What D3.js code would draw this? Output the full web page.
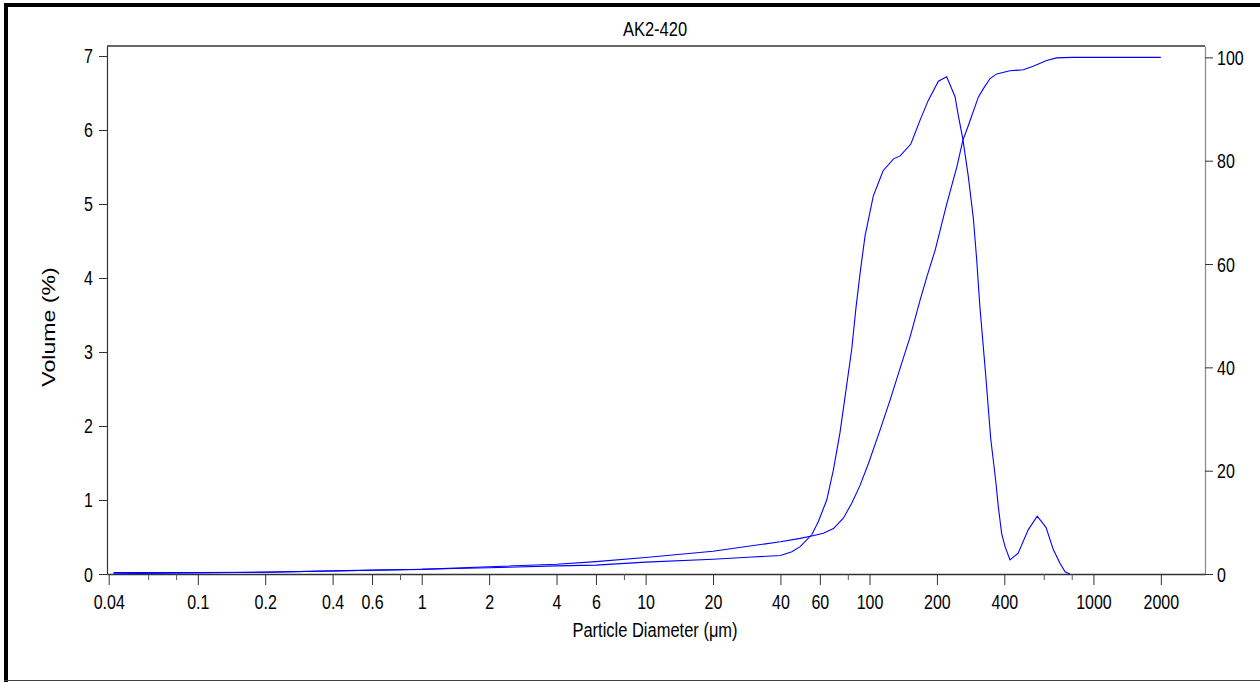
<!DOCTYPE html>
<html><head><meta charset="utf-8">
<script src="https://cdn.jsdelivr.net/npm/d3@7"></script>
<style>html,body{margin:0;padding:0;background:#fff;} svg{display:block;}</style>
</head><body>
<svg id="chart" width="1260" height="682"></svg>
<script>
const chartTitle = "AK2-420";
const xTitle = "Particle Diameter (μm)";
const yTitle = "Volume (%)";

// Frequency (Volume %) curve – left axis
const freqSize = [0.042, 0.1, 0.2, 0.4, 0.6, 1, 2, 4, 6, 10, 20, 30, 40, 45, 49, 55.2, 59.1, 64.4, 69, 73.8, 77.8, 83.3, 87, 90.8, 95.5, 104, 115, 128, 137, 153, 168, 183, 203, 221, 241, 249, 261, 276, 291, 301, 311, 330, 348, 357, 367, 376, 389, 403, 424, 461, 512, 561, 614, 662, 709, 747, 785];
const freqVolume = [0.02, 0.02, 0.025, 0.04, 0.05, 0.065, 0.085, 0.11, 0.12, 0.16, 0.20, 0.23, 0.25, 0.30, 0.37, 0.53, 0.71, 1.00, 1.41, 1.91, 2.40, 3.04, 3.60, 4.07, 4.57, 5.11, 5.45, 5.61, 5.65, 5.81, 6.13, 6.40, 6.66, 6.72, 6.45, 6.20, 5.88, 5.38, 4.80, 4.25, 3.62, 2.7, 1.82, 1.54, 1.23, 0.91, 0.55, 0.37, 0.19, 0.28, 0.60, 0.78, 0.63, 0.33, 0.145, 0.03, 0];

// Cumulative volume curve – right axis
const cumSize = [0.042, 0.1, 0.2, 0.4, 0.6, 1, 2, 4, 6, 10, 20, 40, 49, 55.2, 62.2, 69, 76.4, 83.3, 90.8, 98.9, 111.5, 123.6, 136.9, 151.8, 168.2, 180.3, 196.4, 221.4, 245.5, 260.9, 276.3, 306.2, 322, 345.4, 369.8, 424, 486, 538, 618, 685, 800, 2000];
const cumVolume = [0.05, 0.2, 0.35, 0.6, 0.75, 0.9, 1.4, 1.9, 2.4, 3.2, 4.4, 6.25, 6.9, 7.35, 7.9, 8.8, 10.8, 13.7, 17.2, 21.4, 27.9, 33.7, 39.8, 45.9, 53.0, 57.5, 62.7, 71.7, 78.8, 83.9, 86.8, 92.3, 93.9, 95.9, 96.8, 97.4, 97.6, 98.3, 99.4, 99.9, 100, 100];

const xTicksLabeled = [0.04, 0.1, 0.2, 0.4, 0.6, 1, 2, 4, 6, 10, 20, 40, 60, 100, 200, 400, 1000, 2000];
const xTicksMinor = [0.06, 0.08, 0.8, 8, 80, 600, 800];
const yLeftTicks = [0, 1, 2, 3, 4, 5, 6, 7];
const yRightTicks = [0, 20, 40, 60, 80, 100];

const svg = d3.select("#chart");
const L = 107, R = 1205, T = 46, B = 574;
const STRETCH = 1.25;
const FONT = "'Liberation Sans', Arial, sans-serif";

const x = d3.scaleLog().domain([0.0393, 3150]).range([L, R]);
const yL = d3.scaleLinear().domain([0, 7.135]).range([B, T]);
const yR = d3.scaleLinear().domain([0, 102.2]).range([B, T]);

// outer frame
svg.append("rect").attr("x", 0).attr("y", 0).attr("width", 1260).attr("height", 682).attr("fill", "#fff");
svg.append("line").attr("x1", 4).attr("x2", 1260).attr("y1", 5).attr("y2", 5).attr("stroke", "#000").attr("stroke-width", 4);
svg.append("line").attr("x1", 6).attr("x2", 6).attr("y1", 3).attr("y2", 682).attr("stroke", "#000").attr("stroke-width", 4);
svg.append("line").attr("x1", 4).attr("x2", 1260).attr("y1", 680.5).attr("y2", 680.5).attr("stroke", "#444").attr("stroke-width", 1);

// top border of plot
svg.append("line").attr("x1", L).attr("x2", R).attr("y1", T).attr("y2", T).attr("stroke", "#333").attr("stroke-width", 1.5);

function styleText(sel, tf) {
  sel.selectAll("text").attr("x", null).attr("y", null).attr("dy", null)
    .attr("transform", tf).style("font-family", FONT).style("font-size", "16px").attr("fill", "#000");
}

// bottom axis
const gx = svg.append("g").attr("transform", `translate(0,${B})`)
  .call(d3.axisBottom(x).tickValues(xTicksLabeled).tickSize(11).tickSizeOuter(0).tickFormat(d => String(d)));
gx.select(".domain").attr("stroke", "#333").attr("stroke-width", 1.5);
gx.selectAll(".tick line").attr("stroke", "#333");
styleText(gx, `translate(0,35) scale(1,${STRETCH})`);
gx.selectAll(".tick text").attr("text-anchor", "middle");

const gxm = svg.append("g").attr("transform", `translate(0,${B})`)
  .call(d3.axisBottom(x).tickValues(xTicksMinor).tickSize(6).tickSizeOuter(0).tickFormat(""));
gxm.select(".domain").remove();
gxm.selectAll(".tick line").attr("stroke", "#555");

// left axis
const gl = svg.append("g").attr("transform", `translate(${L},0)`)
  .call(d3.axisLeft(yL).tickValues(yLeftTicks).tickSize(8).tickSizeOuter(0));
gl.select(".domain").attr("stroke", "#333").attr("stroke-width", 1.2);
gl.selectAll(".tick line").attr("stroke", "#333");
styleText(gl, `translate(-14,7) scale(1,${STRETCH})`);
gl.selectAll(".tick text").attr("text-anchor", "end");

// right axis
const gr = svg.append("g").attr("transform", `translate(${R},0)`)
  .call(d3.axisRight(yR).tickValues(yRightTicks).tickSize(8).tickSizeOuter(0));
gr.select(".domain").attr("stroke", "#888").attr("stroke-width", 1.2);
gr.selectAll(".tick line").attr("stroke", "#333");
styleText(gr, `translate(12,7) scale(1,${STRETCH})`);
gr.selectAll(".tick text").attr("text-anchor", "start");

// curves
const freqData = freqSize.map((d, i) => [d, freqVolume[i]]);
const cumData = cumSize.map((d, i) => [d, cumVolume[i]]);
svg.append("path").datum(cumData).attr("fill", "none").attr("stroke", "#0000ff").attr("stroke-width", 1.1)
  .attr("d", d3.line().x(d => x(d[0])).y(d => yR(d[1])));
svg.append("path").datum(freqData).attr("fill", "none").attr("stroke", "#0000ff").attr("stroke-width", 1.1)
  .attr("d", d3.line().x(d => x(d[0])).y(d => yL(d[1])));

// titles
svg.append("text").attr("transform", `translate(655,36) scale(1,${STRETCH})`).attr("text-anchor", "middle")
  .style("font-family", FONT).style("font-size", "16.5px").text(chartTitle);
svg.append("text").attr("transform", `translate(655,637) scale(1,${STRETCH})`).attr("text-anchor", "middle")
  .style("font-family", FONT).style("font-size", "16.5px").text(xTitle);
svg.append("text").attr("transform", `translate(55,327) scale(1,${STRETCH}) rotate(-90)`).attr("text-anchor", "middle")
  .style("font-family", FONT).style("font-size", "18.5px").text(yTitle);
</script>
</body></html>
